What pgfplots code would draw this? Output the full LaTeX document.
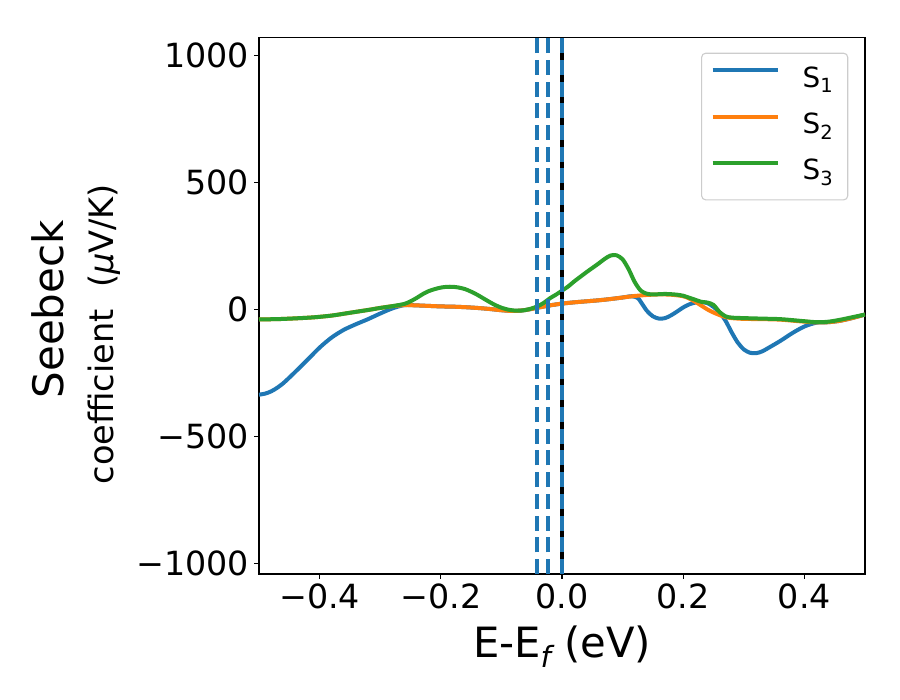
\documentclass[border=0pt]{standalone}
\usepackage{fontspec}
\setmainfont{DejaVu Sans}
\usepackage{pgfplots}
\pgfplotsset{compat=1.18}
\definecolor{c1}{HTML}{1F77B4}
\definecolor{c2}{HTML}{FF7F0E}
\definecolor{c3}{HTML}{2CA02C}
\newcommand\tickfont{\fontsize{33.3bp}{40bp}\selectfont}
\newcommand\labfont{\fontsize{41.7bp}{50bp}\selectfont}
\newcommand\legfont{\fontsize{27.8bp}{33bp}\selectfont}
\newcommand\legS[1]{S\raisebox{-0.2em}{\fontsize{19.5bp}{20bp}\selectfont #1}\hspace*{6bp}}
\newcommand\ylab{\vbox{\baselineskip=50bp\lineskiplimit=-100bp\lineskip=0pt
  \hbox{\kern86bp\fontsize{42bp}{50bp}\selectfont Seebeck}%
  \hbox{\fontsize{33.6bp}{50bp}\selectfont coefficient\ \ ({\itshape μ}V/K)}}}
\begin{document}
\begin{tikzpicture}
\begin{axis}[
 at={(0,0)}, anchor=south west,
 scale only axis, width=606bp, height=536.7bp,
 xmin=-0.5, xmax=0.5, ymin=-1040, ymax=1070,
 axis line style={line width=1.1bp},
 tick align=outside, major tick length=4.9bp,
 xtick pos=bottom, ytick pos=left,
 every tick/.style={black, line width=1.1bp},
 xtick={-0.4,-0.2,0,0.2,0.4},
 xticklabels={−0.4,−0.2,0.0,0.2,0.4},
 ytick={-1000,-500,0,500,1000},
 yticklabels={−1000,−500,0,500,1000},
 minor tick num=0,
 tick label style={font=\tickfont, inner sep=0pt},
 xticklabel style={yshift=-5bp},
 yticklabel style={xshift=-5bp},
 xlabel={E-E\raisebox{-0.22em}{\fontsize{29.2bp}{30bp}\selectfont\itshape f} (eV)},
 xlabel style={at={(axis description cs:0.5,-0.1565)}, anchor=base, font=\labfont, inner sep=0pt},
 ylabel={\ylab},
 ylabel style={at={(axis description cs:-0.3023,0.4468)}, anchor=center, inner sep=0pt},
 legend style={at={(axis description cs:0.9724,0.9713)}, anchor=north east,
   draw=black!20, line width=1.1bp, rounded corners=4bp, fill=white,
   font=\legfont, inner xsep=9bp, inner ysep=13bp, row sep=18.3bp, column sep=23bp,
   nodes={inner sep=0pt, text height=21bp, text depth=7bp}},
 legend cell align=left,
 legend image code/.code={\draw[#1, line width=4bp] (0bp,10bp) -- (65bp,10bp);},
]
\addplot[c1, line width=4bp, smooth, mark=none] coordinates {
(-0.50,-335) (-0.49,-331) (-0.48,-322) (-0.47,-308) (-0.46,-290) (-0.45,-268) (-0.44,-245)
(-0.42,-198) (-0.40,-150) (-0.38,-110) (-0.36,-80) (-0.34,-58) (-0.32,-38) (-0.30,-16)
(-0.28,4) (-0.26,17) (-0.24,16) (-0.22,14) (-0.20,12) (-0.18,11) (-0.16,9) (-0.14,6)
(-0.12,2) (-0.10,-3) (-0.08,-6) (-0.06,-2) (-0.04,7) (-0.02,16) (0.00,23) (0.02,28)
(0.04,32) (0.06,36) (0.08,41) (0.10,47) (0.115,52) (0.125,45) (0.13,30) (0.14,-5) (0.15,-27)
(0.16,-36) (0.17,-34) (0.18,-23) (0.19,-8) (0.20,8) (0.21,20) (0.22,27) (0.23,29) (0.24,25)
(0.25,10) (0.26,-12) (0.27,-45) (0.28,-90) (0.29,-130) (0.30,-157) (0.31,-170) (0.32,-172)
(0.33,-165) (0.34,-152) (0.36,-124) (0.38,-93) (0.40,-67) (0.42,-52) (0.44,-50) (0.46,-44)
(0.48,-33) (0.50,-20)
};
\addlegendentry{\legS{1}}
\addplot[c2, line width=4bp, smooth, mark=none] coordinates {
(-0.50,-39) (-0.47,-38) (-0.44,-35) (-0.41,-31) (-0.38,-24) (-0.35,-13) (-0.32,-2) (-0.30,6)
(-0.28,13) (-0.26,17) (-0.24,16) (-0.22,14) (-0.20,12) (-0.18,11) (-0.16,9) (-0.14,6)
(-0.12,2) (-0.10,-3) (-0.08,-6) (-0.06,-2) (-0.04,7) (-0.02,16) (0.00,23) (0.02,28)
(0.04,32) (0.06,36) (0.08,41) (0.10,47) (0.12,53) (0.14,57) (0.16,59) (0.18,58) (0.20,52)
(0.21,43) (0.22,30) (0.23,15) (0.24,0) (0.25,-12) (0.26,-22) (0.27,-30) (0.28,-34) (0.30,-37)
(0.33,-38) (0.36,-40) (0.39,-46) (0.42,-51) (0.44,-50) (0.46,-44) (0.48,-33) (0.50,-20)
};
\addlegendentry{\legS{2}}
\addplot[c3, line width=4bp, smooth, mark=none] coordinates {
(-0.50,-39) (-0.47,-38) (-0.44,-35) (-0.41,-31) (-0.38,-24) (-0.35,-13) (-0.32,-2) (-0.30,6)
(-0.28,13) (-0.26,22) (-0.25,32) (-0.24,45) (-0.23,60) (-0.22,72) (-0.21,80) (-0.20,86)
(-0.19,89) (-0.18,89) (-0.17,86) (-0.16,80) (-0.15,70) (-0.14,58) (-0.13,44) (-0.12,30)
(-0.11,17) (-0.10,7) (-0.09,0) (-0.08,-4) (-0.07,-5) (-0.06,-2) (-0.05,4) (-0.04,13)
(-0.03,26) (-0.02,44) (-0.01,58) (0.00,74) (0.01,90) (0.02,110) (0.03,128) (0.04,146)
(0.05,163) (0.06,180) (0.07,198) (0.08,212) (0.09,213) (0.10,197) (0.11,158) (0.12,108)
(0.13,74) (0.14,62) (0.15,59) (0.16,60) (0.17,61) (0.18,60) (0.19,58) (0.20,54) (0.21,46)
(0.22,38) (0.23,30) (0.24,27) (0.25,18) (0.26,-10) (0.27,-27) (0.28,-32) (0.30,-34)
(0.33,-36) (0.36,-38) (0.39,-44) (0.42,-50) (0.44,-48) (0.46,-40) (0.48,-30) (0.50,-20)
};
\addlegendentry{\legS{3}}
\addplot[c1, line width=4bp, dash pattern=on 15bp off 6.7bp, forget plot] coordinates {(-0.041,-1040) (-0.041,1070)};
\addplot[c1, line width=4bp, dash pattern=on 15bp off 6.7bp, forget plot] coordinates {(-0.0225,-1040) (-0.0225,1070)};
\addplot[black, line width=4bp, forget plot] coordinates {(0,-1040) (0,1070)};
\addplot[c1, line width=4bp, dash pattern=on 15bp off 6.7bp, forget plot] coordinates {(0,-1040) (0,1070)};
\end{axis}
\pgfresetboundingbox
\path (-259bp,-126bp) rectangle (641bp,574bp);
\end{tikzpicture}
\end{document}
